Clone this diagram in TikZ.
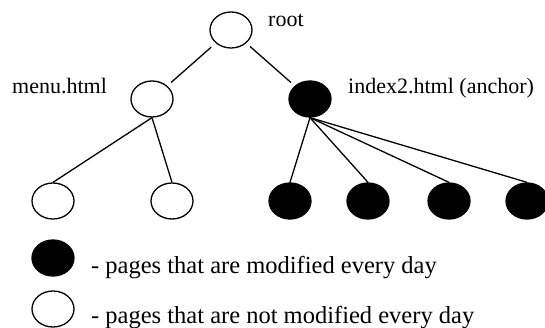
\documentclass[tikz,border=0pt]{standalone}
\usepackage{fontspec}
\setmainfont{Liberation Serif}
\usetikzlibrary{shapes.geometric}

\begin{document}
\begin{tikzpicture}[x=1pt,y=-1pt]
    \tikzstyle{every node}+=[inner sep=0pt]
    \tikzstyle{page}=[draw=black, line width=1.3pt, ellipse, minimum width=42pt, minimum height=36pt]
    \tikzstyle{daily}=[page, fill=black]
    \tikzstyle{pagename}=[anchor=base west, font=\fontsize{22}{26}\selectfont]
    \tikzstyle{legendtext}=[anchor=base west, font=\fontsize{24.5}{29}\selectfont]
    \tikzstyle{link}=[black, line width=1.3pt]
    \useasboundingbox (0,0) rectangle (545,328);
    \node [page] (root) at (231,30) {};
    \node [pagename] (rootname) at (268,27) {root};
    \node [page] (menu) at (152,99) {};
    \node [pagename] (menuname) at (12,94) {menu.html};
    \node [daily] (index) at (310,99) {};
    \node [pagename] (indexname) at (348,94) {index2.html (anchor)};
    \node [page] (ma) at (53,201) {};
    \node [page] (mb) at (172,201) {};
    \node [daily] (ia) at (290,201) {};
    \node [daily] (ib) at (368,201) {};
    \node [daily] (ic) at (449,201) {};
    \node [daily] (id) at (527,201) {};
    \draw [link, shorten <=6pt, shorten >=5pt] (root.south west) -- (menu.north east);
    \draw [link, shorten <=5pt, shorten >=5pt] (root.south east) -- (index.north west);
    \draw [link] (menu.south) -- (ma.north);
    \draw [link] (menu.south) -- (mb.north);
    \draw [link] (index.south) -- (ia.north);
    \draw [link] (index.south) -- (ib.north);
    \draw [link] (index.south) -- (ic.north);
    \draw [link] (index.south) -- (id.north);
    \node [daily] (keydaily) at (53,258) {};
    \node [legendtext] (keydailytext) at (91,273) {- pages that are modified every day};
    \node [page] (keystatic) at (53,309) {};
    \node [legendtext] (keystatictext) at (91,323) {- pages that are not modified every day};
\end{tikzpicture}
\end{document}
